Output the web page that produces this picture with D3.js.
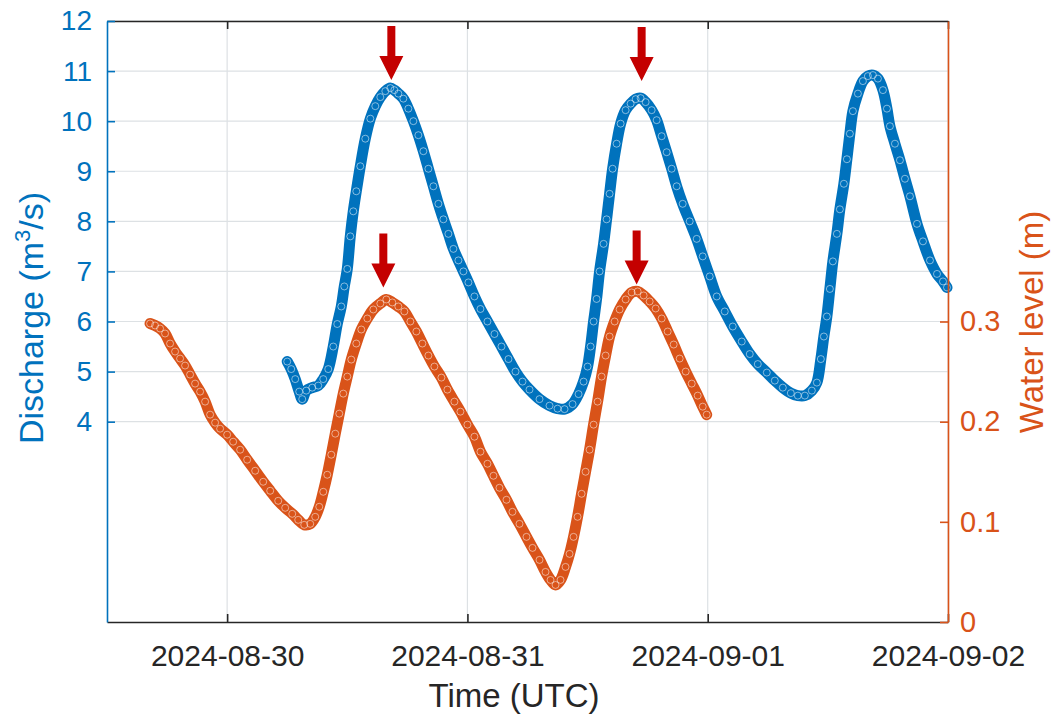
<!DOCTYPE html>
<html>
<head>
<meta charset="utf-8">
<script src="https://cdn.jsdelivr.net/npm/d3@7"></script>
<style>
  body { margin: 0; background: #fff; }
  text { font-family: "Liberation Sans", Arial, sans-serif; }
</style>
</head>
<body>
<svg id="chart"></svg>
<script>
// hours since 2024-08-30 00:00 UTC, discharge (m3/s)
let dischargeData = [
  [6.0,5.20],[6.4,5.05],[6.8,4.85],[7.2,4.60],[7.5,4.45],[7.9,4.62],[8.5,4.68],[9.1,4.72],
  [9.6,4.85],[10.1,5.05],[10.6,5.50],[11.0,5.95],[11.4,6.30],[11.7,6.70],[12.0,7.05],[12.3,7.70],
  [12.6,8.20],[12.9,8.60],[13.3,9.10],[13.8,9.65],[14.3,10.05],[14.8,10.30],[15.3,10.48],[15.8,10.60],
  [16.3,10.66],[16.7,10.62],[17.1,10.55],[17.6,10.45],[18.1,10.25],[18.6,10.00],[19.1,9.72],[19.6,9.40],
  [20.1,9.05],[20.6,8.70],[21.1,8.35],[21.6,8.04],[22.1,7.75],[22.6,7.45],[23.1,7.22],[23.6,7.00],
  [24.1,6.78],[24.7,6.50],[25.3,6.25],[26.0,6.00],[26.7,5.75],[27.4,5.50],[28.1,5.25],[28.8,5.00],
  [29.5,4.80],[30.2,4.64],[31.2,4.45],[32.2,4.32],[33.0,4.26],[33.7,4.25],[34.5,4.35],[35.1,4.55],[35.6,4.80],
  [36.0,5.10],[36.3,5.50],[36.6,6.00],[36.9,6.45],[37.2,7.00],[37.6,7.55],[37.9,8.04],[38.2,8.55],
  [38.5,9.05],[38.9,9.55],[39.3,9.95],[39.8,10.22],[40.3,10.35],[40.8,10.44],[41.3,10.46],[41.8,10.38],
  [42.4,10.22],[42.9,10.02],[43.4,9.70],[43.9,9.38],[44.4,9.05],[44.9,8.70],[45.5,8.35],[46.2,8.00],
  [46.9,7.65],[47.5,7.30],[48.2,6.90],[48.9,6.50],[49.7,6.20],[50.5,5.90],[51.4,5.60],[52.2,5.35],
  [53.0,5.15],[53.9,4.98],[54.7,4.82],[55.5,4.68],[56.3,4.57],[57.0,4.52],[57.7,4.52],[58.4,4.62],
  [58.9,4.78],[59.3,5.25],[59.6,5.70],[59.9,6.10],[60.2,6.65],[60.5,7.20],[60.9,7.75],[61.2,8.24],
  [61.6,8.75],[61.9,9.24],[62.2,9.75],[62.5,10.20],[63.0,10.55],[63.5,10.80],[64.0,10.90],[64.5,10.92],
  [65.0,10.85],[65.5,10.62],[65.9,10.25],[66.2,9.90],[66.7,9.55],[67.2,9.22],[67.7,8.85],[68.2,8.50],
  [68.9,7.95],[69.5,7.60],[70.2,7.22],[70.9,6.95],[71.5,6.80],[71.9,6.68]
];

// hours since 2024-08-30 00:00 UTC, water level (m)
let levelData = [
  [-7.7,0.298],[-7.2,0.296],[-6.7,0.293],[-6.2,0.288],[-5.7,0.278],[-5.2,0.270],[-4.7,0.263],[-4.2,0.256],
  [-3.7,0.247],[-3.2,0.238],[-2.7,0.230],[-2.2,0.220],[-1.7,0.207],[-1.2,0.199],[-0.7,0.193],[0.0,0.187],
  [0.6,0.180],[1.3,0.172],[2.0,0.162],[2.8,0.151],[3.6,0.140],[4.3,0.131],[5.1,0.121],[5.8,0.114],
  [6.5,0.108],[7.1,0.102],[7.7,0.097],[8.3,0.098],[8.8,0.105],[9.2,0.115],[9.6,0.130],[10.0,0.147],
  [10.4,0.167],[10.8,0.188],[11.2,0.208],[11.6,0.228],[12.0,0.245],[12.4,0.262],[12.9,0.278],[13.4,0.292],
  [14.0,0.303],[14.6,0.312],[15.3,0.318],[15.9,0.322],[16.5,0.319],[17.1,0.315],[17.7,0.310],[18.3,0.300],
  [18.9,0.290],[19.5,0.278],[20.1,0.266],[20.7,0.255],[21.4,0.244],[22.0,0.232],[22.7,0.220],[23.3,0.210],
  [24.0,0.197],[24.7,0.185],[25.3,0.170],[26.0,0.158],[26.6,0.146],[27.2,0.134],[27.9,0.122],[28.5,0.110],
  [29.2,0.098],[29.9,0.085],[30.5,0.074],[31.2,0.062],[31.8,0.050],[32.3,0.042],[32.8,0.037],[33.3,0.042],
  [33.8,0.055],[34.2,0.068],[34.6,0.085],[35.0,0.105],[35.4,0.128],[35.8,0.150],[36.2,0.172],[36.6,0.197],
  [37.0,0.220],[37.4,0.245],[37.8,0.266],[38.2,0.285],[38.7,0.300],[39.2,0.312],[39.8,0.322],[40.4,0.329],
  [41.0,0.330],[41.6,0.326],[42.2,0.320],[42.8,0.313],[43.4,0.303],[44.0,0.290],[44.6,0.277],[45.2,0.263],
  [45.8,0.250],[46.4,0.238],[47.0,0.226],[47.5,0.215],[47.9,0.207]
];

let xTickLabels = ["2024-08-30", "2024-08-31", "2024-09-01", "2024-09-02"];
let dischargeTicks = [4, 5, 6, 7, 8, 9, 10, 11, 12];
let levelTicks = [0, 0.1, 0.2, 0.3];

// peak arrows: tip position (hour, value, axis)
let arrowHours = [16.4, 15.6, 41.4, 40.9];
let arrowValues = [10.82, 0.334, 10.8, 0.337];
let arrowAxis = ["discharge", "level", "discharge", "level"];

let width = 1059;
let height = 720;
let plotLeft = 107, plotRight = 948, plotTop = 21, plotBottom = 622;

let blue = "#0072BD";
let orange = "#D95319";
let ink = "#262626";

let base = Date.UTC(2024, 7, 30);
let toDate = (h) => new Date(base + h * 3600e3);

let svg = d3.select("#chart").attr("width", width).attr("height", height);

let xScale = d3.scaleUtc()
  .domain([new Date(Date.UTC(2024, 7, 29, 12)), new Date(Date.UTC(2024, 8, 2))])
  .range([plotLeft, plotRight]);
let yDischarge = d3.scaleLinear().domain([0, 12]).range([plotBottom, plotTop]);
let yLevel = d3.scaleLinear().domain([0, 0.6]).range([plotBottom, plotTop]);

let xTicks = xTickLabels.map((s) => d3.utcParse("%Y-%m-%d")(s));

// grid
let grid = svg.append("g").attr("stroke", "#dde1e4").attr("stroke-width", 1.2);
grid.selectAll(".gx").data(xTicks).enter().append("line")
  .attr("x1", (d) => xScale(d)).attr("x2", (d) => xScale(d))
  .attr("y1", plotTop).attr("y2", plotBottom);
grid.selectAll(".gy").data(dischargeTicks).enter().append("line")
  .attr("x1", plotLeft).attr("x2", plotRight)
  .attr("y1", (d) => yDischarge(d)).attr("y2", (d) => yDischarge(d));

// series: dense hollow markers look like a thick band
let drawSeries = (data, yScale, color) => {
  let line = d3.line()
    .x((d) => xScale(toDate(d[0])))
    .y((d) => yScale(d[1]))
    .curve(d3.curveCatmullRom);
  let g = svg.append("g");
  g.append("path").datum(data)
    .attr("d", line)
    .attr("fill", "none")
    .attr("stroke", color)
    .attr("stroke-width", 11)
    .attr("stroke-linecap", "round")
    .attr("stroke-linejoin", "round");
  g.selectAll("circle").data(data).enter().append("circle")
    .attr("cx", (d) => xScale(toDate(d[0])))
    .attr("cy", (d) => yScale(d[1]))
    .attr("r", 3.5)
    .attr("fill", "none")
    .attr("stroke", "rgba(255,255,255,0.5)")
    .attr("stroke-width", 1);
};
drawSeries(levelData, yLevel, orange);
drawSeries(dischargeData, yDischarge, blue);

// axes
let styleAxis = (g, color, size) => {
  g.select(".domain").attr("stroke", color).attr("stroke-width", 1.6);
  g.selectAll(".tick line").attr("stroke", color).attr("stroke-width", 1.6);
  g.selectAll(".tick text").attr("fill", color).attr("font-size", size)
    .attr("font-family", '"Liberation Sans", Arial, sans-serif');
};

let xAxis = svg.append("g")
  .attr("transform", "translate(0," + plotBottom + ")")
  .call(d3.axisBottom(xScale).tickValues(xTicks).tickFormat(d3.utcFormat("%Y-%m-%d"))
    .tickSizeInner(-8).tickSizeOuter(0).tickPadding(23));
styleAxis(xAxis, ink, 30);

let topAxis = svg.append("g")
  .attr("transform", "translate(0," + plotTop + ")")
  .call(d3.axisTop(xScale).tickValues(xTicks).tickFormat("")
    .tickSizeInner(-8).tickSizeOuter(0));
styleAxis(topAxis, ink, 30);

let leftAxis = svg.append("g")
  .attr("transform", "translate(" + plotLeft + ",0)")
  .call(d3.axisLeft(yDischarge).tickValues(dischargeTicks).tickFormat(d3.format("d"))
    .tickSizeInner(-8).tickSizeOuter(0).tickPadding(15));
styleAxis(leftAxis, blue, 28);

let rightAxis = svg.append("g")
  .attr("transform", "translate(" + plotRight + ",0)")
  .call(d3.axisRight(yLevel).tickValues(levelTicks)
    .tickFormat((d) => (d === 0 ? "0" : d3.format(".1f")(d)))
    .tickSizeInner(-8).tickSizeOuter(0).tickPadding(12));
styleAxis(rightAxis, orange, 29);

// arrows
let arrowPath = "M0,0 L-12,-24 L-4,-24 L-4,-54 L4,-54 L4,-24 L12,-24 Z";
svg.selectAll(".arrow").data(arrowHours).enter().append("path")
  .attr("class", "arrow")
  .attr("d", arrowPath)
  .attr("fill", "#c40000")
  .attr("transform", (d, i) => {
    let ys = arrowAxis[i] === "discharge" ? yDischarge : yLevel;
    return "translate(" + xScale(toDate(d)) + "," + ys(arrowValues[i]) + ")";
  });

// labels
let yLab = svg.append("text")
  .attr("transform", "translate(43,318) rotate(-90)")
  .attr("text-anchor", "middle")
  .attr("fill", blue)
  .attr("font-size", 34);
yLab.append("tspan").text("Discharge (m");
yLab.append("tspan").attr("font-size", 22).attr("dy", -13).text("3");
yLab.append("tspan").attr("dy", 13).text("/s)");

svg.append("text")
  .attr("transform", "translate(1043,322) rotate(-90)")
  .attr("text-anchor", "middle")
  .attr("fill", orange)
  .attr("font-size", 33)
  .text("Water level (m)");

svg.append("text")
  .attr("x", 514).attr("y", 707)
  .attr("text-anchor", "middle")
  .attr("fill", ink)
  .attr("font-size", 33)
  .text("Time (UTC)");
</script>
</body>
</html>
